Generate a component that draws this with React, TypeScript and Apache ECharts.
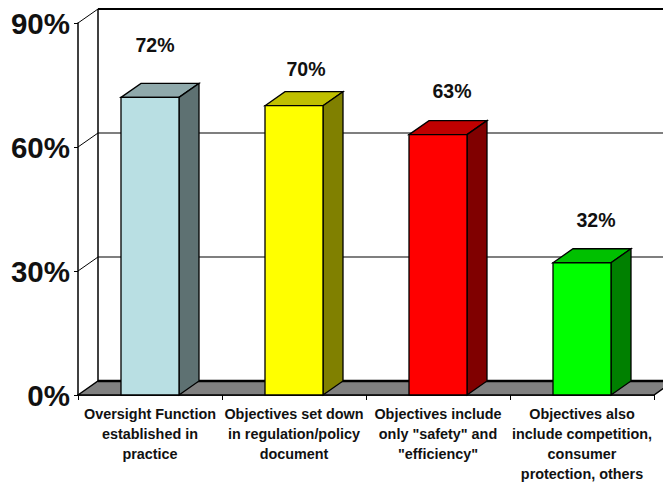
import React, { useEffect, useRef } from "react";
import * as echarts from "echarts";

const categories = [
  "Oversight Function\nestablished in\npractice",
  "Objectives set down\nin regulation/policy\ndocument",
  "Objectives include\nonly \"safety\" and\n\"efficiency\"",
  "Objectives also\ninclude competition,\nconsumer\nprotection, others",
];
const values = [72, 70, 63, 32];
const valueLabels = ["72%", "70%", "63%", "32%"];
const yTicks = [0, 30, 60, 90];

const frontColors = ["#B9DFE3", "#FFFF00", "#FF0000", "#00FF00"];
const topColors = ["#8FA9AB", "#C0C000", "#C00000", "#00C000"];
const sideColors = ["#5E7172", "#808000", "#800000", "#008000"];
const labelShift = [[5, -52], [12, -37], [14, -44], [14, -43]];

const DX = 20;
const DY = -14;
const BAR_W = 58;
const FONT = "'Liberation Sans', Arial, sans-serif";
const INK = "#000000";

function poly(points: number[][], fill: string, z2 = 0, lw = 1.3) {
  return {
    type: "polygon",
    z2,
    shape: { points },
    style: { fill, stroke: INK, lineWidth: lw, lineJoin: "miter" },
  };
}
function seg(a: number[], b: number[], stroke: string, lw: number) {
  return {
    type: "line",
    shape: { x1: a[0], y1: a[1], x2: b[0], y2: b[1] },
    style: { stroke, lineWidth: lw, fill: "none" },
  };
}

export default function App() {
  const ref = useRef<HTMLDivElement>(null);
  useEffect(() => {
    document.body.style.margin = "0";
    const chart = echarts.init(ref.current!, undefined, { renderer: "svg" });
    chart.setOption({
      animation: false,
      backgroundColor: "#FFFFFF",
      grid: { left: 78, right: 9, top: 23, bottom: 87 },
      xAxis: {
        type: "category",
        data: categories,
        axisLine: { show: true, lineStyle: { color: INK, width: 1.5 } },
        axisTick: { show: true, length: 5, alignWithLabel: false, lineStyle: { color: INK, width: 1 } },
        axisLabel: {
          interval: 0,
          margin: 9,
          fontFamily: FONT,
          fontWeight: "bold",
          fontSize: 14.4,
          lineHeight: 20,
          color: "#111111",
        },
      },
      yAxis: {
        type: "value",
        min: 0,
        max: 90,
        interval: 30,
        axisLine: { show: true, lineStyle: { color: INK, width: 1.5 } },
        axisTick: { show: true, length: 4, lineStyle: { color: INK, width: 1 } },
        splitLine: { show: false },
        axisLabel: {
          margin: 8,
          formatter: "{value}%",
          fontFamily: FONT,
          fontWeight: "bold",
          fontSize: 29.5,
          color: "#111111",
        },
      },
      series: [
        {
          type: "custom",
          coordinateSystem: "cartesian2d",
          z: 1,
          silent: true,
          data: yTicks.map((t) => [0, t]),
          renderItem: (params: any, api: any) => {
            const t = api.value(1);
            const cs = params.coordSys;
            const left = cs.x;
            const right = cs.x + cs.width;
            const y = api.coord([0, t])[1];
            const children: any[] = [];
            if (t === 0) {
              children.push(
                poly([[left, y], [left + DX, y + DY], [right + DX, y + DY], [right, y]], "#808080", 0, 1.5),
              );
              children.push(seg([left + DX, y + DY], [right + DX, y + DY], INK, 2.5));
              children.push(seg([left + DX, y + DY], [left + DX, cs.y + DY], INK, 1.5));
            } else {
              const top = t === yTicks[yTicks.length - 1];
              children.push(seg([left + DX, y + DY], [right + DX, y + DY], INK, top ? 2 : 1.2));
              children.push(seg([left, y], [left + DX, y + DY], INK, 1));
            }
            return { type: "group", children };
          },
        },
        {
          type: "custom",
          coordinateSystem: "cartesian2d",
          z: 3,
          silent: true,
          data: values.map((v, i) => [i, v]),
          renderItem: (params: any, api: any) => {
            const i = params.dataIndex;
            const top = api.coord([i, api.value(1)]);
            const base = api.coord([i, 0]);
            const l = top[0] - BAR_W / 2;
            const r = top[0] + BAR_W / 2;
            return {
              type: "group",
              children: [
                poly([[l, top[1]], [l + DX, top[1] + DY], [r + DX, top[1] + DY], [r, top[1]]], topColors[i]),
                poly([[r, top[1]], [r + DX, top[1] + DY], [r + DX, base[1] + DY], [r, base[1]]], sideColors[i]),
                poly([[l, top[1]], [r, top[1]], [r, base[1]], [l, base[1]]], frontColors[i]),
                {
                  type: "text",
                  x: top[0] + labelShift[i][0],
                  y: top[1] + labelShift[i][1],
                  style: {
                    text: valueLabels[i],
                    fill: "#111111",
                    font: `bold 19.5px ${FONT}`,
                    align: "center",
                    verticalAlign: "middle",
                  },
                },
              ],
            };
          },
        },
      ],
    });
    return () => chart.dispose();
  }, []);
  return <div ref={ref} style={{ position: "absolute", left: 0, top: 0, width: 663, height: 484 }} />;
}
